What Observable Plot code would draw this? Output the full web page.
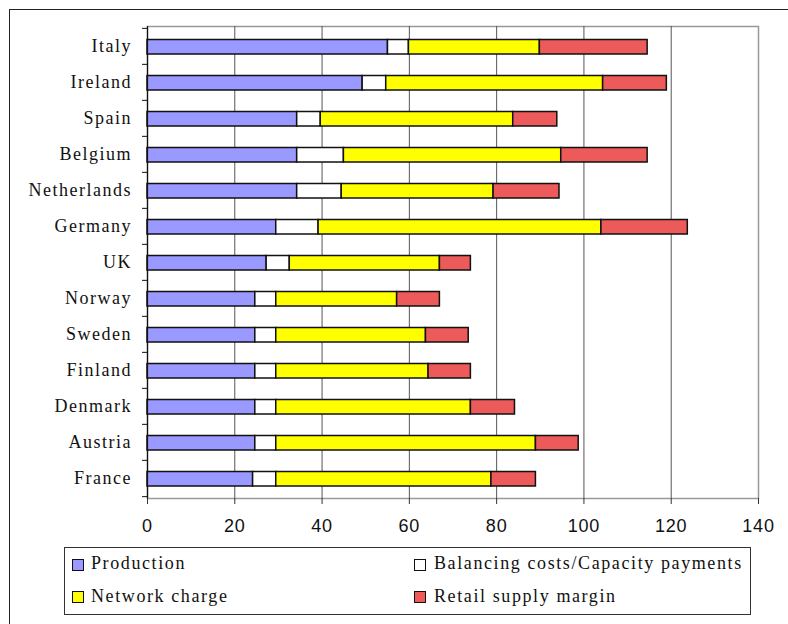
<!DOCTYPE html>
<html><head><meta charset="utf-8">
<script src="https://cdn.jsdelivr.net/npm/d3@7"></script>
<script src="https://cdn.jsdelivr.net/npm/@observablehq/plot@0.6"></script>
<style>
body{margin:0;background:#fff;width:788px;height:624px;overflow:hidden;position:relative;font-family:"Liberation Serif",serif}
#frame{position:absolute;left:9px;top:9px;width:900px;height:800px;border:1px solid #222}
#chart{position:absolute;left:0;top:0}
#legend{position:absolute;left:64px;top:547px;width:685px;height:66px;border:1.5px solid #333;background:#fff}
.item{position:absolute;font-size:18px;letter-spacing:1.6px;color:#111;white-space:nowrap;line-height:20px}
.sw{position:absolute;width:10px;height:10px;border:1.5px solid #111}
</style>
</head><body>
<div id="frame"></div>
<div id="chart"></div>
<div id="legend"></div>
<script>
const countries = ["Italy","Ireland","Spain","Belgium","Netherlands","Germany","UK","Norway","Sweden","Finland","Denmark","Austria","France"];
const production = [55.1, 49.3, 34.3, 34.3, 34.3, 29.5, 27.3, 24.7, 24.7, 24.7, 24.7, 24.7, 24.2];
const balancing  = [4.8, 5.4, 5.4, 10.7, 10.2, 9.7, 5.3, 4.8, 4.8, 4.8, 4.8, 4.8, 5.3];
const network    = [30.0, 49.7, 44.1, 49.8, 34.8, 64.8, 34.4, 27.7, 34.3, 34.9, 44.6, 59.5, 49.3];
const retail     = [24.7, 14.6, 10.1, 19.8, 15.1, 19.8, 7.1, 9.8, 9.8, 9.7, 10.1, 9.8, 10.2];
const components = ["Production","Balancing costs/Capacity payments","Network charge","Retail supply margin"];
const colors = ["#9999ff","#ffffff","#ffff00","#ec5a5a"];
const xTicks = [0,20,40,60,80,100,120,140];

const series = [production, balancing, network, retail];
const rows = [];
countries.forEach((c, i) => components.forEach((k, j) => rows.push({country: c, component: k, value: series[j][i]})));

const W = 788, H = 538, mt = 26, mb = 40, ml = 147, mr = 30;
const step = (H - mt - mb) / countries.length;

const chart = Plot.plot({
  width: W, height: H,
  marginTop: mt, marginBottom: mb, marginLeft: ml, marginRight: mr,
  style: {background: "transparent", color: "#111"},
  x: {domain: [0, 140], label: null},
  y: {domain: countries, padding: 0, label: null},
  color: {domain: components, range: colors},
  marks: [
    Plot.frame({stroke: "#999", strokeWidth: 1.5}),
    Plot.ruleX(xTicks.filter(d => d > 0 && d < 140), {stroke: "#555", strokeWidth: 1}),
    Plot.barX(rows, {x: "value", y: "country", fill: "component", order: components,
      stroke: "#111", strokeWidth: 1.5, insetTop: 11.5, insetBottom: 10}),
    Plot.ruleX([0], {stroke: "#111", strokeWidth: 1.2}),
    Plot.ruleY(countries, {y: d => d, x1: 0, x2: 0, insetLeft: -5, dy: -step / 2, stroke: "#111"}),
    Plot.ruleY([countries[countries.length - 1]], {y: d => d, x1: 0, x2: 0, insetLeft: -5, dy: step / 2, stroke: "#111"}),
    Plot.axisX({ticks: xTicks, tickSize: 6, tickPadding: 15, fontSize: 18, label: null,
      fontFamily: "Liberation Sans", stroke: "#333", tickFormat: d => d}),
    Plot.axisY({tickSize: 0, tickPadding: 15.5, fontSize: 18, label: null, fontFamily: "Liberation Serif"})
  ]
});
d3.select(chart).selectAll('g[aria-label="y-axis tick label"] text').style("letter-spacing", "1.5px");
d3.select(chart).selectAll('g[aria-label="x-axis tick label"] text').style("letter-spacing", "0.8px");
document.getElementById("chart").appendChild(chart);

// legend
const lg = d3.select("#legend");
const pos = [[6.5, 10.5, 26, 4.5], [348.5, 10.5, 369, 4.5], [6.5, 42.5, 26, 37.5], [348.5, 42.5, 369, 37.5]];
components.forEach((k, i) => {
  const [sx, sy, tx, ty] = pos[i];
  lg.append("div").attr("class", "sw").style("left", sx + "px").style("top", sy + "px").style("background", colors[i]);
  lg.append("div").attr("class", "item").style("left", tx + "px").style("top", ty + "px").text(k);
});
</script>
</body></html>
